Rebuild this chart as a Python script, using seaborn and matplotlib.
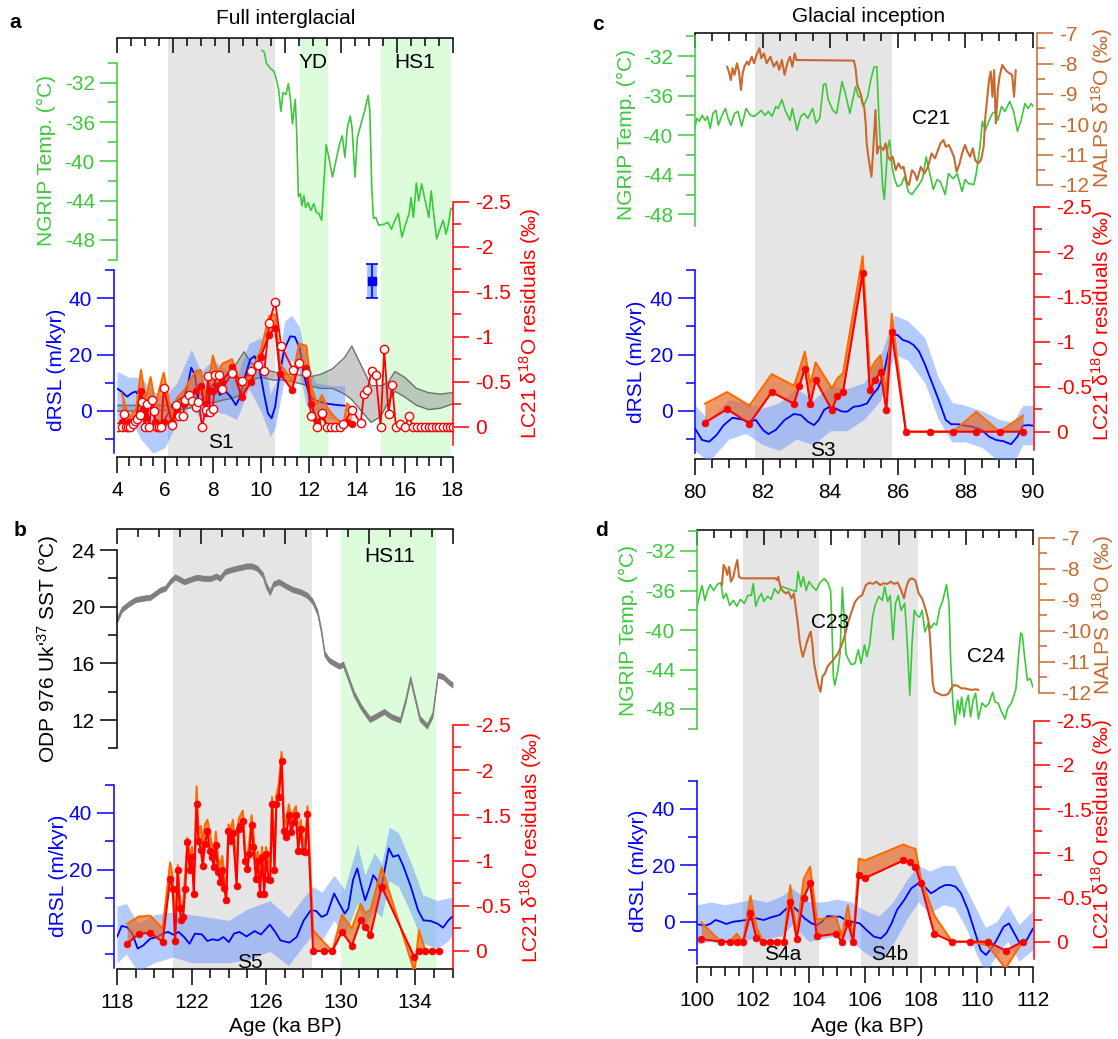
import numpy as np
import matplotlib
matplotlib.use('Agg')
import matplotlib.pyplot as plt
from matplotlib.ticker import FuncFormatter
import seaborn as sns

# ------------------------------------------------------------------ data
# ---- panel a (Full interglacial, 4-18 ka)
a_ng_age = [10.05, 10.15, 10.23, 10.33, 10.42, 10.53, 10.6, 10.68, 10.75, 10.84, 10.93, 11.05, 11.15, 11.23, 11.32, 11.38, 11.44, 11.5, 11.57, 11.65,
            11.72, 11.8, 11.87, 11.97, 12.09, 12.21, 12.32, 12.42, 12.54, 12.63, 12.73, 12.84, 12.99, 13.14, 13.28, 13.4, 13.51, 13.61, 13.73, 13.81,
            13.93, 14.03, 14.18, 14.33, 14.48, 14.55, 14.63, 14.7, 14.8, 14.92, 15.15, 15.3, 15.45, 15.6, 15.74, 15.89, 16.04, 16.19, 16.27, 16.37,
            16.49, 16.59, 16.71, 16.86, 17.01, 17.11, 17.23, 17.34, 17.46, 17.61, 17.73, 17.83, 17.93, 18.0]
a_ng_val = [-28.7, -28.9, -30.0, -30.3, -30.6, -30.8, -31.2, -32.0, -32.8, -34.9, -33.0, -33.2, -32.1, -33.5, -36.2, -34.9, -33.7, -37.2, -43.6, -43.3,
            -44.5, -43.5, -44.7, -44.2, -45.0, -44.3, -45.2, -45.3, -46.0, -42.3, -38.3, -39.6, -41.6, -39.9, -38.3, -37.4, -39.6, -36.6, -35.4, -36.6,
            -41.6, -37.6, -36.2, -34.9, -33.3, -34.9, -42.6, -45.8, -45.7, -46.5, -46.4, -46.2, -46.9, -46.0, -45.3, -47.7, -46.4, -45.3, -43.7, -45.7,
            -42.2, -44.0, -42.3, -44.0, -45.7, -43.0, -45.7, -47.9, -47.0, -46.0, -47.4, -46.4, -44.8, -44.8]

a_rsl_age = [4.0, 4.19, 4.42, 4.64, 4.79, 5.01, 5.24, 5.46, 5.68, 5.91, 6.13, 6.35, 6.58, 6.8, 6.95, 7.1, 7.25, 7.4, 7.55, 7.77,
             8.07, 8.29, 8.52, 8.74, 8.96, 9.11, 9.34, 9.56, 9.74, 9.93, 10.13, 10.3, 10.45, 10.6, 10.75, 10.97, 11.23, 11.42, 11.62, 11.8,
             12.02, 12.24, 12.54, 12.84, 13.21, 13.51]
a_rsl_val = [8.0, 6.9, 5.1, 6.5, 6.9, 3.9, -2.0, -6.1, -6.7, -4.4, -0.8, 2.7, 4.1, 5.1, 9.2, 15.4, 12.7, 3.9, 2.7, 7.4,
             10.0, 5.7, 7.1, 5.1, 2.1, 4.5, 12.2, 18.3, 19.5, 15.7, 6.3, -0.8, -2.6, 1.5, 11.0, 21.6, 26.5, 26.3, 22.5, 12.7,
             5.7, 3.9, 3.1, 2.5, 2.1, 1.9]
a_band_age = [4.0, 4.5, 5.0, 5.5, 6.0, 6.5, 7.1, 7.5, 8.0, 8.5, 9.0, 9.5, 10.0, 10.4, 10.6, 11.0, 11.3, 11.6, 11.9, 12.3, 13.0, 13.5]
a_band_lo = [-5, -2, -10, -15, -13, -4, 2, -3, 0, -1, -3, 8, 0, -9, -6, 12, 18, 14, 2, -2, -3, -4]
a_band_hi = [14, 12, 12, 7, 5, 10, 22, 14, 18, 15, 12, 24, 26, 6, 10, 32, 34, 30, 18, 10, 9, 9]

a_gray_age = [4.0, 5.0, 6.0, 6.5, 7.0, 7.5, 8.0, 8.5, 9.0, 9.3, 9.6, 10.0, 10.5, 11.0, 11.5, 12.0, 12.5, 13.0, 13.5, 13.8,
              14.2, 14.6, 15.0, 15.3, 15.6, 16.0, 16.5, 17.0, 17.5, 18.0]
a_gray_lo = [0, 0, 0.2, 0.5, 1, 2, 3, 4, 5, 7, 11, 12, 11, 11, 10, 9, 8, 8, 6, 4, 0, -4, -2, 3, 7, 5, 2, 0.5, 1, 2.5]
a_gray_hi = [2, 2, 2, 2.5, 4, 6, 9, 12, 17, 21, 17, 15, 14, 13, 13, 12, 13, 15, 19, 23, 16, 9, 9, 10, 14, 12, 8, 6.5, 6, 6.5]

a_fill_age = [4.2, 4.5, 4.8, 5.0, 5.2, 5.4, 5.6, 5.95, 6.3, 6.5, 6.8, 7.0, 7.3, 7.5, 7.7, 7.9, 8.0, 8.2, 8.4, 8.8,
              9.2, 9.6, 10.0, 10.35, 10.6, 10.8, 11.3, 11.6, 11.9, 12.1, 12.35, 12.55, 12.8, 13.1, 13.45, 13.6, 13.8]
a_fill_val = [-0.05, -0.05, -0.1, -0.4, -0.1, -0.3, -0.05, -0.05, -0.05, -0.2, -0.25, -0.32, -0.4, -0.45, -0.15, -0.4, -0.4, -0.45, -0.5, -0.66,
              -0.33, -0.5, -0.78, -1.02, -1.1, -0.59, -0.41, -0.7, -0.65, -0.25, -0.05, -0.12, 0, 0, -0.02, -0.05, -0.03]
a_fill_env = [-0.37, -0.1, -0.2, -0.63, -0.3, -0.55, -0.25, -0.6, -0.1, -0.32, -0.4, -0.5, -0.62, -0.63, -0.3, -0.62, -0.79, -0.6, -0.7, -0.75,
              -0.45, -0.62, -0.85, -1.23, -1.25, -0.7, -0.52, -0.92, -0.9, -0.45, -0.25, -0.35, -0.2, -0.1, -0.03, -0.26, -0.2]

a_open_age = [4.05, 4.2, 4.3, 4.38, 4.47, 4.56, 4.65, 4.75, 4.85, 4.95, 5.05, 5.15, 5.25, 5.35, 5.45, 5.55, 5.65, 5.75, 5.85, 5.95,
              6.3, 6.45, 6.6, 6.75, 6.85, 7.0, 7.15, 7.3, 7.4, 7.55, 7.7, 7.8, 7.9, 8.0, 8.1, 8.25, 8.4, 8.8, 9.2, 9.6,
              9.9, 10.15, 10.35, 10.6, 10.85, 11.35, 11.6, 11.9, 12.1, 12.35, 12.55, 12.75, 12.95, 13.1, 13.3, 13.45, 13.8, 14.17, 14.3, 14.45,
              14.63, 14.8, 15.0, 15.15, 15.33, 15.48, 15.64, 15.82, 16.01, 16.19, 16.34, 16.5, 16.67, 16.85, 17.0, 17.15, 17.3, 17.45, 17.6, 17.75,
              17.9, 18.0]
a_open_val = [0, 0, -0.14, 0, 0, 0, -0.03, -0.06, -0.09, -0.13, -0.27, 0, -0.25, 0, -0.3, -0.17, 0, 0, 0, -0.43,
              -0.02, -0.24, -0.12, -0.12, -0.3, -0.35, -0.29, -0.22, -0.28, 0, -0.19, -0.56, -0.16, -0.2, -0.57, -0.57, -0.42, -0.6, -0.51, -0.62,
              -0.69, -0.62, -1.15, -1.39, -0.9, -0.63, -0.71, -0.6, -0.12, 0, -0.15, 0, 0, 0, 0, -0.03, -0.19, -0.04, -0.36, -0.41,
              -0.62, -0.57, 0, -0.86, -0.14, -0.46, 0, -0.03, 0, -0.12, 0, 0, 0, 0, 0, 0, 0, 0, 0, 0,
              0, 0]
a_pt_age = [14.63]
a_pt_val = [46.0]
a_pt_err = [6.0]

# ---- panel b (118-136 ka)
b_sst_age = [118.0, 118.25, 118.63, 119.0, 119.4, 119.78, 120.07, 120.32, 120.59, 120.84, 121.12, 121.41, 121.6, 121.89, 122.27, 122.66, 123.04, 123.33, 123.52, 123.8,
             124.19, 124.57, 124.95, 125.24, 125.53, 125.82, 126.0, 126.2, 126.39, 126.68, 127.06, 127.44, 127.83, 128.21, 128.5, 128.75, 128.94, 129.13, 129.36, 129.65,
             129.93, 130.13, 130.41, 130.7, 131.08, 131.56, 131.85, 132.33, 132.71, 133.19, 133.48, 133.73, 133.96, 134.24, 134.63, 134.92, 135.2, 135.49, 135.78, 136.0]
b_sst_val = [19.06, 19.8, 20.2, 20.5, 20.6, 20.66, 20.94, 21.18, 21.3, 21.76, 22.1, 21.9, 21.76, 21.9, 22.07, 22.0, 22.0, 22.16, 22.0, 22.47,
             22.64, 22.75, 22.87, 22.87, 22.7, 22.24, 21.5, 21.0, 21.6, 21.76, 21.46, 21.2, 21.06, 20.8, 20.35, 19.6, 18.35, 16.7, 16.24, 16.0,
             15.8, 15.95, 14.94, 13.88, 12.94, 12.05, 12.24, 12.6, 12.24, 12.0, 13.4, 14.94, 13.65, 12.1, 11.58, 12.35, 15.18, 15.06, 14.7, 14.47]
b_sst_halfwidth = 0.18

b_rsl_age = [118.0, 118.25, 118.54, 118.82, 119.11, 119.4, 119.78, 120.16, 120.45, 120.74, 121.03, 121.31, 121.6, 121.89, 122.18, 122.56, 122.85, 123.13, 123.42, 123.71,
             124.0, 124.28, 124.57, 124.95, 125.38, 125.72, 126.2, 126.49, 126.77, 127.25, 127.64, 128.02, 128.4, 128.69, 128.98, 129.26, 129.65, 129.93, 130.22, 130.41,
             130.66, 130.89, 131.08, 131.31, 131.56, 131.75, 131.95, 132.14, 132.39, 132.58, 132.81, 133.1, 133.38, 133.77, 134.15, 134.44, 134.82, 135.2, 135.49, 135.78,
             136.0]
b_rsl_val = [-3.9, 0, -0.4, -2.7, -8.0, -6.9, -4.5, -3.9, -2.7, -2.1, -3.1, -2.1, -3.9, -6.3, -2.7, -3.0, -5.3, -4.7, -5.1, -3.9,
             -5.7, -2.7, -2.1, -3.7, -1.8, -3.0, 0.5, -2.1, -5.1, -5.9, -3.9, 2.0, 5.6, 5.3, 3.2, 4.1, 11.5, 7.9, 4.4, 6.2,
             16.2, 20.4, 15.0, 9.1, 13.8, 18.0, 16.2, 12.1, 20.9, 27.5, 24.5, 25.1, 20.9, 13.8, 5.6, 2.0, 1.8, 0.8, -0.6, 2.0,
             3.4]
b_band_age = [118.0, 118.5, 119.1, 120.0, 121.0, 122.0, 123.0, 124.0, 125.0, 126.2, 127.2, 128.0, 128.5, 129.0, 129.65, 130.2, 130.9, 131.3, 131.8, 132.2,
              132.6, 133.1, 133.8, 134.4, 135.2, 135.8, 136.0]
b_band_lo = [-13, -10, -16, -13, -11, -13, -13, -13, -12, -9, -14, -7, -3, -5, 2, -4, 8, 0, 6, 3, 16, 14, 4, -6, -8, -5, -3]
b_band_hi = [7, 8, 1, 4, 5, 4, 3, 2, 6, 9, 3, 10, 14, 12, 18, 13, 29, 18, 26, 22, 35, 33, 22, 11, 9, 10, 10]

b_res_age = [118.54, 119.17, 119.78, 120.45, 120.85, 120.99, 121.12, 121.26, 121.36, 121.45, 121.55, 121.66, 121.78, 121.9, 122.02, 122.12, 122.27, 122.37, 122.5, 122.6,
             122.72, 122.85, 122.97, 123.08, 123.2, 123.3, 123.43, 123.55, 123.65, 123.75, 123.86, 123.98, 124.1, 124.22, 124.42, 124.52, 124.62, 124.75, 124.88, 125.0,
             125.1, 125.22, 125.32, 125.45, 125.55, 125.67, 125.78, 125.9, 126.0, 126.12, 126.22, 126.32, 126.45, 126.55, 126.68, 126.83, 126.95, 127.08, 127.22, 127.35,
             127.48, 127.6, 127.72, 127.85, 127.97, 128.1, 128.22, 128.52, 129.08, 129.55, 130.07, 130.6, 131.08, 131.3, 131.6, 132.2, 133.96, 134.2, 134.55, 134.9,
             135.3]
b_res_val = [-0.08, -0.19, -0.20, -0.10, -0.80, -0.69, -0.11, -0.89, -0.47, -0.34, -0.38, -0.69, -1.20, -0.89, -1.04, -0.63, -1.62, -1.22, -1.12, -0.94,
             -1.18, -1.33, -1.10, -1.04, -0.93, -1.17, -0.87, -0.76, -0.90, -0.70, -0.56, -1.33, -1.22, -1.30, -0.72, -1.35, -1.38, -1.44, -1.00, -0.91,
             -1.07, -1.39, -1.15, -0.80, -1.00, -0.63, -1.04, -0.63, -1.07, -0.80, -0.78, -1.62, -0.89, -1.62, -1.70, -2.10, -1.33, -1.26, -1.50, -1.31,
             -1.42, -1.50, -1.11, -1.35, -1.11, -1.09, -1.51, 0.0, 0.0, 0.0, -0.21, -0.06, -0.34, -0.27, -0.18, -0.71, 0.07, 0.0, 0.0, 0.0,
             0.0]
b_res_env = [-0.30, -0.38, -0.39, -0.25, -0.98, -0.82, -0.25, -0.95, -0.62, -0.50, -0.52, -0.85, -1.25, -1.05, -1.15, -0.78, -1.82, -1.35, -1.38, -1.20,
             -1.40, -1.45, -1.32, -1.18, -1.02, -1.32, -1.02, -0.95, -1.05, -0.85, -0.62, -1.40, -1.35, -1.45, -0.90, -1.45, -1.50, -1.55, -1.10, -1.05,
             -1.20, -1.50, -1.30, -0.98, -1.10, -0.85, -1.15, -0.80, -1.15, -1.00, -0.95, -1.70, -1.00, -1.72, -1.85, -2.20, -1.50, -1.40, -1.62, -1.45,
             -1.55, -1.60, -1.25, -1.45, -1.25, -1.20, -1.60, -0.23, -0.10, 0.0, -0.40, -0.25, -0.52, -0.42, -0.45, -0.92, 0.23, -0.23, 0.0, 0.0,
             0.0]

# ---- panel c (80-90 ka)
c_ng_age = [80.0, 80.05, 80.13, 80.21, 80.3, 80.37, 80.45, 80.53, 80.62, 80.69, 80.8, 80.9, 80.98, 81.06, 81.17, 81.27, 81.38, 81.51, 81.64, 81.75,
            81.86, 81.96, 82.07, 82.17, 82.28, 82.39, 82.46, 82.57, 82.67, 82.81, 82.88, 83.02, 83.13, 83.23, 83.34, 83.48, 83.58, 83.69, 83.8, 83.87,
            83.94, 84.08, 84.19, 84.35, 84.45, 84.58, 84.67, 84.75, 84.83, 84.9, 84.98, 85.11, 85.2, 85.3, 85.38, 85.44, 85.49, 85.55, 85.6, 85.65,
            85.7, 85.76, 85.83, 85.91, 85.99, 86.1, 86.2, 86.31, 86.42, 86.52, 86.63, 86.73, 86.84, 86.95, 87.05, 87.16, 87.26, 87.4, 87.5, 87.64,
            87.76, 87.9, 87.99, 88.1, 88.25, 88.32, 88.43, 88.5, 88.59, 88.7, 88.8, 88.89, 88.96, 89.07, 89.17, 89.31, 89.42, 89.54, 89.65, 89.76,
            89.86, 89.95, 90.0]
c_ng_val = [-39.3, -38.3, -38.6, -38.0, -38.5, -38.1, -39.3, -37.8, -37.5, -39.0, -38.0, -37.3, -38.3, -39.0, -37.8, -37.6, -39.1, -37.3, -38.0, -38.1,
            -37.8, -37.5, -38.0, -37.6, -38.1, -37.1, -37.3, -36.4, -37.5, -38.5, -37.3, -39.5, -38.1, -37.8, -38.3, -37.3, -38.8, -38.3, -34.9, -34.8,
            -36.4, -37.5, -37.8, -34.6, -35.8, -37.8, -36.4, -35.1, -36.1, -36.1, -37.1, -36.1, -34.4, -33.1, -33.1, -38.1, -41.2, -45.2, -46.5, -43.9,
            -41.3, -40.5, -43.2, -44.5, -45.2, -45.0, -44.2, -45.7, -46.0, -45.5, -45.0, -44.4, -42.2, -43.9, -45.5, -44.5, -44.7, -46.0, -43.9, -44.4,
            -43.9, -45.7, -44.5, -44.9, -45.0, -43.9, -41.2, -38.6, -39.5, -38.5, -37.8, -37.6, -38.5, -37.1, -37.6, -36.6, -37.5, -39.6, -38.5, -36.8,
            -37.3, -36.8, -37.1]
c_na_age = [80.95, 81.0, 81.06, 81.11, 81.17, 81.24, 81.3, 81.36, 81.41, 81.46, 81.54, 81.59, 81.68, 81.75, 81.82, 81.91, 81.96, 82.04, 82.12, 82.23,
            82.33, 82.42, 82.49, 82.57, 82.65, 82.73, 82.81, 82.88, 82.95, 83.0, 84.7, 84.75, 84.8, 84.86, 84.91, 84.96, 85.01, 85.05, 85.08, 85.12,
            85.16, 85.22, 85.26, 85.3, 85.34, 85.39, 85.44, 85.49, 85.57, 85.64, 85.71, 85.78, 85.85, 85.94, 86.02, 86.1, 86.17, 86.26, 86.33, 86.42,
            86.5, 86.57, 86.68, 86.79, 86.89, 87.0, 87.1, 87.19, 87.26, 87.35, 87.42, 87.51, 87.58, 87.66, 87.74, 87.83, 87.9, 87.99, 88.06, 88.14,
            88.22, 88.29, 88.38, 88.46, 88.54, 88.59, 88.64, 88.7, 88.75, 88.8, 88.85, 88.9, 88.96, 89.01, 89.09, 89.15, 89.23, 89.31, 89.38, 89.44,
            89.49]
c_na_val = [-8.1, -8.26, -8.54, -8.15, -8.37, -7.99, -8.26, -8.87, -8.32, -8.1, -7.93, -8.04, -7.77, -7.99, -7.71, -7.49, -7.82, -7.66, -7.99, -7.77,
            -8.1, -7.93, -8.21, -7.88, -8.37, -7.99, -7.77, -8.1, -7.66, -7.88, -7.9, -8.15, -8.7, -8.87, -9.03, -9.3, -9.47, -9.97, -10.63, -11.01,
            -11.29, -11.73, -11.07, -10.3, -9.53, -10.96, -10.74, -10.74, -10.85, -10.63, -11.07, -11.18, -11.07, -11.51, -11.29, -11.45, -11.4, -11.89, -12.0, -11.51,
            -11.62, -11.84, -11.4, -11.62, -11.4, -10.96, -11.12, -10.85, -10.63, -10.52, -10.74, -10.68, -10.85, -11.07, -11.56, -11.29, -10.96, -10.68, -10.9, -11.07,
            -10.79, -11.18, -11.29, -11.18, -10.74, -9.75, -9.2, -8.54, -8.26, -9.09, -8.21, -9.97, -8.87, -8.43, -8.04, -8.15, -8.26, -8.32, -8.37, -9.09,
            -8.21]
c_rsl_age = [80.0, 80.21, 80.42, 80.64, 80.85, 81.11, 81.38, 81.59, 81.8, 82.01, 82.17, 82.39, 82.65, 82.92, 83.13, 83.34, 83.52, 83.66, 83.82, 83.98,
             84.16, 84.35, 84.51, 84.69, 84.88, 85.09, 85.25, 85.41, 85.57, 85.67, 85.78, 85.89, 85.99, 86.15, 86.31, 86.47, 86.63, 86.79, 87.0, 87.21,
             87.42, 87.58, 87.79, 88.01, 88.22, 88.48, 88.7, 88.91, 89.12, 89.35, 89.54, 89.7, 89.86, 90.0]
c_rsl_val = [-6.2, -10.3, -10.9, -8.5, -5.0, -2.4, -3.0, -3.8, -3.2, -6.7, -8.2, -6.7, -3.2, -1.1, -1.4, -3.8, -5.0, -3.2, 0.4, 1.5,
             0.9, -0.2, -0.2, 1.5, 1.8, 2.7, 5.7, 8.0, 12.2, 18.1, 24.0, 27.0, 27.0, 25.2, 24.6, 23.4, 21.1, 16.9, 10.4, 3.9,
             -3.2, -4.7, -4.7, -5.2, -5.6, -6.7, -9.1, -10.3, -10.7, -11.8, -9.1, -5.2, -5.0, -5.2]
c_band_age = [80.0, 80.4, 81.0, 81.5, 82.0, 82.5, 83.0, 83.5, 84.0, 84.5, 85.0, 85.5, 85.9, 86.3, 86.8, 87.2, 87.6, 88.0, 88.5, 89.0, 89.4, 89.7, 90.0]
c_band_lo = [-14, -18, -10, -8, -12, -14, -10, -12, -7, -7, -3, 4, 20, 18, 10, -3, -11, -11, -13, -18, -19, -12, -12]
c_band_hi = [2, -3, 4, 3, 1, 3, 8, 4, 9, 8, 10, 20, 34, 32, 26, 12, 3, 2, 0, -3, -4, 2, 2]
c_res_age = [80.29, 80.95, 81.61, 82.27, 82.93, 83.09, 83.25, 83.41, 83.57, 84.05, 84.21, 84.38, 84.96, 85.17, 85.33, 85.49, 85.66, 85.82, 86.24, 86.95,
             87.64, 88.32, 89.01, 89.71]
c_res_val = [-0.10, -0.25, -0.09, -0.44, -0.31, -0.51, -0.70, -0.31, -0.57, -0.24, -0.40, -0.44, -1.76, -0.46, -0.58, -0.66, -0.24, -1.11, 0, 0,
             0, 0, 0, 0]
c_res_env = [-0.31, -0.44, -0.29, -0.64, -0.51, -0.69, -0.89, -0.52, -0.77, -0.48, -0.59, -0.65, -1.95, -0.67, -0.78, -0.85, -0.43, -1.31, 0, 0,
             0, -0.22, 0, -0.18]

# ---- panel d (100-112 ka)
d_ng_age = [100.0, 100.09, 100.18, 100.28, 100.38, 100.47, 100.6, 100.72, 100.85, 100.94, 101.04, 101.17, 101.3, 101.42, 101.55, 101.69, 101.82, 101.94, 102.01, 102.1,
            102.2, 102.3, 102.39, 102.52, 102.65, 102.77, 102.9, 103.03, 103.22, 103.42, 103.54, 103.61, 103.71, 103.8, 103.9, 104.0, 104.13, 104.26, 104.39, 104.55,
            104.67, 104.77, 104.83, 104.87, 104.92, 105.03, 105.11, 105.19, 105.24, 105.32, 105.41, 105.51, 105.64, 105.76, 105.86, 105.98, 106.07, 106.17, 106.27, 106.36,
            106.49, 106.62, 106.7, 106.81, 106.9, 107.0, 107.09, 107.19, 107.29, 107.42, 107.51, 107.6, 107.68, 107.76, 107.85, 107.95, 108.04, 108.14, 108.27, 108.36,
            108.46, 108.56, 108.65, 108.78, 108.91, 109.0, 109.06, 109.14, 109.22, 109.31, 109.38, 109.45, 109.54, 109.61, 109.69, 109.77, 109.86, 109.95, 110.05, 110.18,
            110.31, 110.43, 110.56, 110.65, 110.75, 110.88, 111.0, 111.1, 111.23, 111.39, 111.48, 111.56, 111.62, 111.71, 111.8, 111.9, 112.0]
d_ng_val = [-37.6, -36.5, -35.5, -37.0, -36.0, -35.4, -36.0, -35.4, -35.2, -36.8, -36.3, -37.5, -37.0, -37.6, -36.9, -37.3, -36.5, -36.5, -35.3, -37.6,
            -36.8, -36.3, -37.1, -36.6, -36.9, -35.8, -36.3, -35.6, -35.8, -36.0, -36.1, -34.1, -35.6, -34.6, -36.0, -35.1, -35.6, -36.0, -35.2, -34.8,
            -35.2, -36.0, -40.7, -44.7, -45.6, -44.1, -42.4, -35.7, -38.0, -42.4, -43.0, -43.5, -43.4, -42.0, -43.4, -41.5, -42.7, -41.4, -38.7, -37.5,
            -36.6, -37.0, -35.6, -37.1, -36.5, -41.0, -37.3, -36.5, -38.0, -37.3, -41.4, -46.6, -41.4, -38.0, -38.5, -38.7, -38.0, -40.2, -39.3, -39.8,
            -39.3, -39.5, -38.0, -37.0, -35.4, -37.3, -43.1, -47.4, -49.6, -47.1, -48.5, -46.8, -48.8, -47.4, -46.6, -48.8, -47.1, -46.4, -49.0, -47.4,
            -47.8, -47.4, -46.3, -47.3, -47.4, -48.3, -49.0, -47.9, -47.4, -46.0, -42.7, -40.3, -40.5, -43.0, -45.1, -44.9, -45.8]
d_na_age = [100.89, 100.95, 101.02, 101.08, 101.15, 101.21, 101.3, 101.36, 101.44, 101.5, 101.59, 102.8, 102.86, 102.9, 102.99, 103.09, 103.18, 103.27, 103.37, 103.46,
            103.52, 103.6, 103.66, 103.72, 103.78, 103.85, 103.91, 103.99, 104.06, 104.12, 104.18, 104.27, 104.35, 104.41, 104.48, 104.57, 104.66, 104.76, 104.86, 104.95,
            105.04, 105.14, 105.27, 105.39, 105.52, 105.65, 105.78, 105.9, 106.03, 106.16, 106.28, 106.41, 106.54, 106.67, 106.79, 106.92, 107.04, 107.17, 107.29, 107.39,
            107.48, 107.57, 107.67, 107.79, 107.92, 108.04, 108.17, 108.26, 108.32, 108.37, 108.42, 108.49, 108.61, 108.74, 108.87, 108.99, 109.08, 109.18, 109.31, 109.44,
            109.57, 109.69, 109.82, 109.95, 110.05]
d_na_val = [-8.53, -7.88, -7.99, -8.2, -7.94, -8.42, -8.26, -7.99, -7.72, -8.26, -8.31, -8.31, -8.37, -8.26, -8.63, -8.74, -8.8, -8.74, -8.96, -8.8,
            -9.23, -9.76, -10.3, -10.62, -10.84, -10.62, -10.41, -10.19, -10.03, -10.41, -11.05, -11.48, -11.81, -11.97, -11.48, -11.38, -11.16, -11.05, -10.95, -10.84,
            -10.73, -10.52, -10.19, -9.76, -9.39, -9.06, -8.92, -8.85, -8.53, -8.45, -8.49, -8.42, -8.53, -8.47, -8.49, -8.42, -8.49, -8.45, -8.69, -8.96,
            -8.58, -8.37, -8.31, -8.37, -8.8, -8.96, -9.33, -9.66, -10.19, -10.95, -11.7, -11.97, -12.02, -12.08, -12.08, -12.02, -11.86, -11.75, -11.78, -11.86,
            -11.86, -11.89, -11.91, -11.89, -11.91]
d_rsl_age = [100.0, 100.28, 100.47, 100.66, 100.85, 101.04, 101.3, 101.61, 101.87, 102.12, 102.38, 102.63, 102.95, 103.2, 103.39, 103.58, 103.84, 104.09, 104.28, 104.47,
             104.66, 104.92, 105.11, 105.3, 105.55, 105.81, 106.06, 106.32, 106.57, 106.76, 106.95, 107.14, 107.4, 107.65, 107.9, 108.16, 108.35, 108.47, 108.67, 108.86,
             109.05, 109.24, 109.43, 109.68, 109.94, 110.13, 110.32, 110.51, 110.7, 110.95, 111.14, 111.33, 111.52, 111.72, 112.0]
d_rsl_val = [-0.9, -1.4, -0.8, 0.6, 0, -0.8, 0, 0.4, 0.8, 1.2, 0.6, 1.5, 2.4, 4.7, 5.7, 4.1, 1.2, -0.6, -1.2, 0,
             2.0, 1.8, 1.8, 0.6, 0, -0.6, -3.0, -5.3, -5.9, -4.1, -0.6, 4.1, 7.7, 11.8, 13.6, 12.1, 10.1, 10.7, 12.1, 13.0,
             13.0, 12.4, 10.1, 4.1, -4.1, -10.1, -11.8, -9.5, -6.5, -1.8, -0.6, -4.1, -7.5, -7.5, -2.4]
d_band_age = [100.0, 100.5, 101.0, 101.5, 102.0, 102.5, 103.0, 103.4, 104.0, 104.5, 105.0, 105.5, 106.0, 106.5, 107.0, 107.5, 107.9, 108.3, 108.8, 109.2,
              109.6, 110.0, 110.3, 110.7, 111.1, 111.5, 112.0]
d_band_lo = [-8, -7, -8, -7, -6, -6, -5, -1, -7, -6, -5, -7, -11, -14, -8, 1, 7, 3, 6, 5, -2, -12, -18, -12, -7, -14, -10]
d_band_hi = [6, 7, 6, 7, 8, 7, 9, 12, 7, 7, 8, 7, 4, 2, 7, 15, 20, 18, 20, 20, 12, 4, -2, 0, 6, -1, 4]
d_res_age = [100.15, 100.85, 101.17, 101.42, 101.65, 101.91, 102.12, 102.35, 102.59, 102.85, 103.1, 103.33, 103.56, 103.81, 104.04, 104.28, 104.96, 105.17, 105.39, 105.58,
             105.78, 106.0, 107.37, 107.59, 107.8, 107.99, 108.47, 109.11, 109.75, 110.38, 111.02, 111.63]
d_res_val = [-0.03, 0, 0, 0, 0, -0.32, -0.04, 0, 0, 0, 0, -0.45, -0.03, -0.5, -0.66, -0.06, -0.09, 0, -0.21, 0,
             -0.75, -0.72, -0.92, -0.9, -0.85, -0.66, -0.09, 0, 0, 0, 0.1, 0]
d_res_env = [-0.22, 0, 0, -0.09, 0, -0.52, -0.17, 0, 0, 0, 0, -0.64, -0.09, -0.71, -0.85, -0.25, -0.28, -0.07, -0.41, -0.02,
             -0.94, -0.92, -1.1, -1.07, -1.05, -0.73, -0.3, 0, 0, 0.04, 0.3, 0]

# shaded intervals (start, end, kind)
a_shades = [(6.13, 10.6, 'S'), (11.62, 12.8, 'H'), (15.0, 17.95, 'H')]
b_shades = [(121.0, 128.47, 'S'), (130.03, 135.1, 'H')]
c_shades = [(81.78, 85.83, 'S')]
d_shades = [(101.64, 104.35, 'S'), (105.86, 107.88, 'S')]

# ------------------------------------------------------------------ style
sns.set_style('white')
plt.rcParams['font.family'] = ['Liberation Sans', 'DejaVu Sans']
plt.rcParams['mathtext.fontset'] = 'custom'
plt.rcParams['mathtext.rm'] = 'Liberation Sans'
plt.rcParams['mathtext.it'] = 'Liberation Sans:italic'
plt.rcParams['mathtext.bf'] = 'Liberation Sans:bold'
plt.rcParams['axes.unicode_minus'] = False
plt.rcParams['axes.linewidth'] = 1.1
plt.rcParams['text.color'] = 'black'
plt.rcParams['axes.labelcolor'] = 'black'
plt.rcParams['xtick.color'] = 'black'
plt.rcParams['ytick.color'] = 'black'

GREEN = '#3cc83c'
BLUE = '#0000ff'
RED = '#ff0000'
ORANGE = '#ff6a00'
ORFILL = '#e8631a'
BROWN = '#c8692f'
BANDC = '#5a8cff'
SHADE = {'S': '#e5e5e5', 'H': '#dcfcdc'}
FS = 15

W, H = 1118, 1039
fig = plt.figure(figsize=(W / 100, H / 100), dpi=100)
fig.patch.set_facecolor('white')


def rect(box):
    x0, x1, t, b = box
    return [x0 / W, 1 - b / H, (x1 - x0) / W, (b - t) / H]


def main_axes(box, xlim, major, minor, shades, ntop):
    ax = fig.add_axes(rect(box))
    ax.set_facecolor('white')
    for s in ('left', 'right', 'top'):
        ax.spines[s].set_visible(False)
    ax.spines['bottom'].set_color('black')
    ax.set_yticks([])
    ax.set_xticks(major)
    ax.set_xticklabels([f'{v:g}' for v in major])
    ax.set_xticks(minor, minor=True)
    ax.set_xlim(*xlim)
    ax.set_ylim(0, 1)
    ax.tick_params(axis='x', which='major', direction='out', length=11.5, width=1.1,
                   labelsize=FS, pad=6, colors='black', bottom=True)
    ax.tick_params(axis='x', which='minor', direction='out', length=6.5, width=1.1,
                   colors='black', bottom=True)
    for a, b, k in shades:
        ax.axvspan(a, b, color=SHADE[k], lw=0, zorder=0)
    at = fig.add_axes(rect(box))
    at.patch.set_visible(False)
    for s in ('left', 'right', 'bottom'):
        at.spines[s].set_visible(False)
    at.spines['top'].set_color('black')
    at.set_yticks([])
    at.xaxis.tick_top()
    at.set_xticks(np.arange(ntop + 1))
    at.set_xticks(np.arange(0, ntop + 0.001, 0.25), minor=True)
    at.set_xlim(0, ntop)
    at.tick_params(axis='x', which='major', direction='in', length=11, width=1.1,
                   labeltop=False, labelbottom=False, top=True, colors='black')
    at.tick_params(axis='x', which='minor', direction='in', length=6, width=1.1,
                   top=True, colors='black')
    return ax


def overlay(box, xlim, side, cal, bounds, color, major, minor, outward=0):
    (v0, p0), (v1, p1) = cal
    x0, x1, t, b = box
    k = (v1 - v0) / (p1 - p0)
    oa = fig.add_axes(rect(box))
    oa.patch.set_visible(False)
    for s in oa.spines:
        oa.spines[s].set_visible(s == side)
    oa.spines[side].set_color(color)
    oa.spines[side].set_linewidth(1.1)
    if outward:
        oa.spines[side].set_position(('outward', outward))
    oa.xaxis.set_visible(False)
    if side == 'right':
        oa.yaxis.tick_right()
    else:
        oa.yaxis.tick_left()
    oa.set_yticks(major)
    oa.set_yticks(minor, minor=True)
    oa.yaxis.set_major_formatter(FuncFormatter(lambda v, _: f'{v:g}'))
    oa.set_xlim(*xlim)
    oa.set_ylim(v0 + (b - p0) * k, v0 + (t - p0) * k)
    oa.spines[side].set_bounds(min(bounds), max(bounds))
    oa.tick_params(axis='y', which='both', colors=color, labelsize=FS, width=1.1)
    oa.tick_params(axis='y', which='major', length=12 if side == 'left' else 11.5,
                   pad=4 if side == 'left' else 4.5)
    oa.tick_params(axis='y', which='minor', length=6.5 if side == 'left' else 6)
    oa.grid(False)
    return oa


def line(ax, x, y, color, lw=1.2, **kw):
    sns.lineplot(x=x, y=y, ax=ax, color=color, linewidth=lw, estimator=None,
                 sort=False, legend=False, errorbar=None, **kw)


def residuals(ax, age, val, env, ms=4.8):
    ax.fill_between(age, val, env, color=ORFILL, alpha=0.65, lw=0)
    line(ax, age, env, ORANGE, lw=1.5)
    line(ax, age, val, RED, lw=1.5, marker='o', markersize=ms,
         markerfacecolor=RED, markeredgecolor=RED, markeredgewidth=0.6)


def ftext(x, y, s, **kw):
    kw.setdefault('ha', 'center')
    kw.setdefault('va', 'center')
    kw.setdefault('fontsize', FS)
    fig.text(x / W, 1 - y / H, s, **kw)


RES_MAJ = [-2.5, -2, -1.5, -1, -0.5, 0]
RES_MIN = [-2.25, -1.75, -1.25, -0.75, -0.25]
RSL_MAJ = [0, 20, 40]
RSL_MIN = [-10, 10, 30, 50]
NG_MAJ = [-32, -36, -40, -44, -48]
NG_MIN = [-30, -34, -38, -42, -46, -50]
NA_MAJ = [-7, -8, -9, -10, -11, -12]
NA_MIN = [-7.5, -8.5, -9.5, -10.5, -11.5]
RES_LABEL = 'LC21 δ$^{18}$O residuals (‰)'
NA_LABEL = 'NALPS δ$^{18}$O (‰)'

# ------------------------------------------------------------------ panel a
boxa = (117, 452.5, 38, 457)
xa = (4, 18)
main_axes(boxa, xa, np.arange(4, 18.1, 2), np.arange(4, 18.01, 0.5), a_shades, 6)
ga = overlay(boxa, xa, 'left', ((-32, 82.7), (-48, 240)), (-30, -50), GREEN, NG_MAJ, NG_MIN)
line(ga, a_ng_age, a_ng_val, GREEN, lw=1.2)
ba = overlay(boxa, xa, 'left', ((0, 411), (40, 298.3)), (-15, 50), BLUE, RSL_MAJ, RSL_MIN, outward=2)
ba.fill_between(a_gray_age, a_gray_lo, a_gray_hi, color='#8c8c8c', alpha=0.45, lw=0)
line(ba, a_gray_age, a_gray_lo, '#6e6e6e', lw=1.0)
line(ba, a_gray_age, a_gray_hi, '#6e6e6e', lw=1.0)
ba.fill_between(a_band_age, a_band_lo, a_band_hi, color=BANDC, alpha=0.45, lw=0)
line(ba, a_rsl_age, a_rsl_val, BLUE, lw=1.3)
ba.plot([a_pt_age[0]] * 2, [a_pt_val[0] - a_pt_err[0], a_pt_val[0] + a_pt_err[0]],
        color='#9fbfff', lw=7, solid_capstyle='butt')
ba.errorbar(a_pt_age, a_pt_val, yerr=a_pt_err, fmt='s', color=BLUE, ms=5.5,
            capsize=4.5, elinewidth=1.2, capthick=1.2)
ra = overlay(boxa, xa, 'right', ((0, 426.7), (-2.5, 201.7)), (0.2, -2.5), RED, RES_MAJ, RES_MIN)
residuals(ra, a_fill_age, a_fill_val, a_fill_env)
line(ra, a_open_age, a_open_val, RED, lw=1.3, marker='o', markersize=6,
     markerfacecolor='white', markeredgecolor=RED, markeredgewidth=1.0)

ftext(15, 22, 'a', fontweight='bold')
ftext(286, 18, 'Full interglacial')
ftext(313, 63, 'YD')
ftext(415, 63, 'HS1')
ftext(221, 443, 'S1')
ftext(46, 161, 'NGRIP Temp. (°C)', rotation=90, color=GREEN)
ftext(57, 370, 'dRSL (m/kyr)', rotation=90, color=BLUE)
ftext(530, 323, RES_LABEL, rotation=90, color=RED)

# ------------------------------------------------------------------ panel b
boxb = (117, 452.5, 529, 969)
xb = (118, 136)
main_axes(boxb, xb, np.arange(118, 135, 4), np.arange(118, 136.01, 1), b_shades, 4)
sa = overlay(boxb, xb, 'left', ((24, 550), (12, 720)), (10, 24), 'black', [12, 16, 20, 24], [10, 14, 18, 22])
sst = np.array(b_sst_val)
sa.fill_between(b_sst_age, sst - b_sst_halfwidth, sst + b_sst_halfwidth,
                color='#7f7f7f', lw=0.6, edgecolor='#7f7f7f')
bb = overlay(boxb, xb, 'left', ((0, 926), (40, 813)), (-15, 50), BLUE, RSL_MAJ, RSL_MIN, outward=2)
bb.fill_between(b_band_age, b_band_lo, b_band_hi, color=BANDC, alpha=0.45, lw=0)
line(bb, b_rsl_age, b_rsl_val, BLUE, lw=1.3)
rb = overlay(boxb, xb, 'right', ((0, 951), (-2, 770)), (0.2, -2.5), RED, RES_MAJ, RES_MIN)
residuals(rb, b_res_age, b_res_val, b_res_env)

ftext(20, 531, 'b', fontweight='bold')
ftext(390, 557, 'HS11')
ftext(250, 963, 'S5')
ftext(48, 649, "ODP 976 Uk'$^{37}$ SST (°C)", rotation=90, color='black')
ftext(59, 876, 'dRSL (m/kyr)', rotation=90, color=BLUE)
ftext(531, 847, RES_LABEL, rotation=90, color=RED)
ftext(285, 1026, 'Age (ka BP)')

# ------------------------------------------------------------------ panel c
boxc = (695, 1033, 33, 459)
xc = (80, 90)
main_axes(boxc, xc, np.arange(80, 90.1, 2), np.arange(80, 90.01, 0.5), c_shades, 5)
gc = overlay(boxc, xc, 'left', ((-32, 56), (-48, 214.3)), (-30, -49.2), GREEN, NG_MAJ, NG_MIN[:-1])
line(gc, c_ng_age, c_ng_val, GREEN, lw=1.2)
nc = overlay(boxc, xc, 'right', ((-7, 33.3), (-12, 185)), (-7, -12), BROWN, NA_MAJ, NA_MIN, outward=3)
line(nc, c_na_age, c_na_val, BROWN, lw=1.5)
bc = overlay(boxc, xc, 'left', ((0, 411), (40, 298.3)), (-15, 50), BLUE, RSL_MAJ, RSL_MIN)
bc.fill_between(c_band_age, c_band_lo, c_band_hi, color=BANDC, alpha=0.45, lw=0)
line(bc, c_rsl_age, c_rsl_val, BLUE, lw=1.3)
rc = overlay(boxc, xc, 'right', ((0, 431.7), (-2.5, 206.7)), (0.2, -2.5), RED, RES_MAJ, RES_MIN, outward=1)
residuals(rc, c_res_age, c_res_val, c_res_env)

ftext(598, 24, 'c', fontweight='bold')
ftext(869, 17, 'Glacial inception')
ftext(931, 119, 'C21')
ftext(823, 450, 'S3')
ftext(626, 134, 'NGRIP Temp. (°C)', rotation=90, color=GREEN)
ftext(1102, 108, NA_LABEL, rotation=90, color=BROWN)
ftext(637, 362, 'dRSL (m/kyr)', rotation=90, color=BLUE)
ftext(1102, 325, RES_LABEL, rotation=90, color=RED)

# ------------------------------------------------------------------ panel d
boxd = (697, 1033, 530, 967)
xd = (100, 112)
main_axes(boxd, xd, np.arange(100, 112.1, 2), np.arange(100, 112.01, 0.5), d_shades, 5)
gd = overlay(boxd, xd, 'left', ((-32, 551), (-48, 709)), (-30, -50), GREEN, NG_MAJ, NG_MIN)
line(gd, d_ng_age, d_ng_val, GREEN, lw=1.2)
nd = overlay(boxd, xd, 'right', ((-7, 537.7), (-12, 692.7)), (-7, -12), BROWN, NA_MAJ, NA_MIN, outward=4)
line(nd, d_na_age, d_na_val, BROWN, lw=1.5)
bd = overlay(boxd, xd, 'left', ((0, 921.7), (40, 809)), (-15, 50), BLUE, RSL_MAJ, RSL_MIN)
bd.fill_between(d_band_age, d_band_lo, d_band_hi, color=BANDC, alpha=0.45, lw=0)
line(bd, d_rsl_age, d_rsl_val, BLUE, lw=1.3)
rd = overlay(boxd, xd, 'right', ((0, 941.7), (-2, 765)), (0.2, -2.5), RED, RES_MAJ, RES_MIN, outward=1)
residuals(rd, d_res_age, d_res_val, d_res_env)

ftext(602, 531, 'd', fontweight='bold')
ftext(830, 622, 'C23')
ftext(986, 657, 'C24')
ftext(783, 955, 'S4a')
ftext(890, 955, 'S4b')
ftext(628, 630, 'NGRIP Temp. (°C)', rotation=90, color=GREEN)
ftext(1103, 615, NA_LABEL, rotation=90, color=BROWN)
ftext(639, 871, 'dRSL (m/kyr)', rotation=90, color=BLUE)
ftext(1102, 834, RES_LABEL, rotation=90, color=RED)
ftext(867, 1026, 'Age (ka BP)')

fig.savefig('out.png', dpi=100, facecolor='white')
